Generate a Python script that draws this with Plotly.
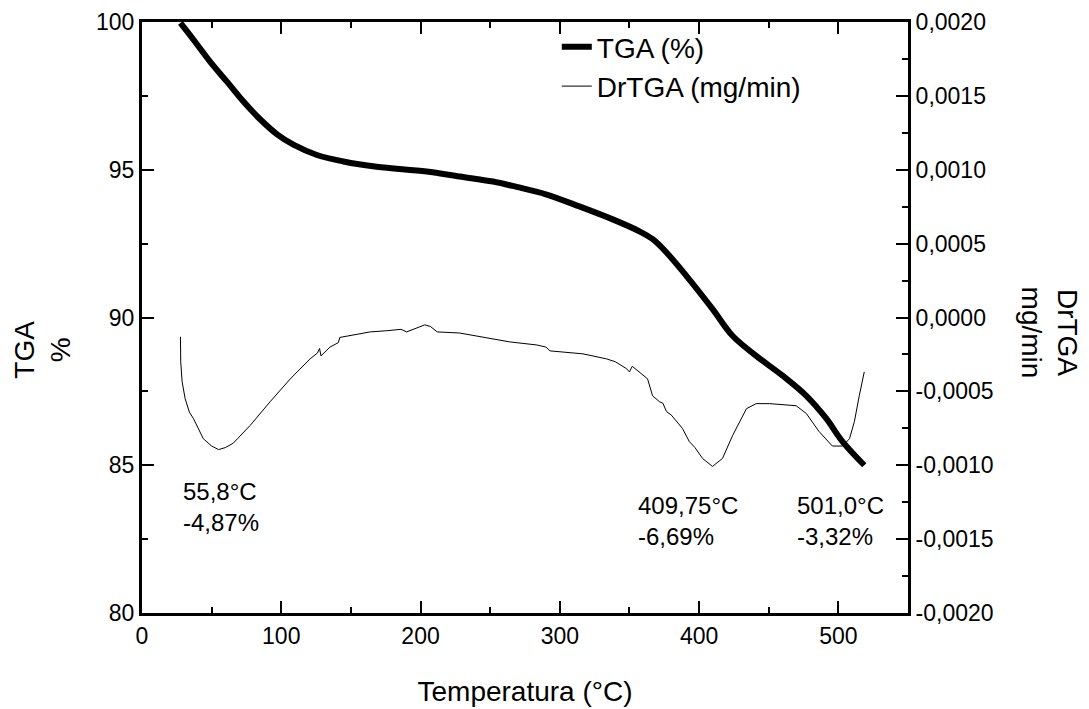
import plotly.graph_objects as go

# ---- data ----
temp_tga = [27.6, 37, 49, 61, 73, 85, 97, 108.7, 125.6, 144.6, 168.5, 204.3, 228, 252,
            269, 290, 314, 338, 357, 366.7, 376.6, 391, 409.6, 424, 441, 460, 477, 491,
            503, 518.6]
tga = [99.97, 99.4, 98.65, 97.98, 97.3, 96.7, 96.2, 95.85, 95.5, 95.28, 95.1, 94.94,
       94.77, 94.6, 94.42, 94.17, 93.76, 93.32, 92.92, 92.65, 92.2, 91.4, 90.29, 89.38,
       88.7, 88.03, 87.35, 86.6, 85.8, 85.0]

temp_dr = [27.6, 27.8, 28.8, 31, 34, 37, 44, 50, 55, 60, 65.6, 77.7, 92, 106.5, 120.7,
           126, 127.5, 128.5, 135, 141, 142, 150, 163.8, 175, 183, 186, 190, 195, 203,
           207, 212, 228, 245, 264, 283.5, 290, 293, 316.6, 333.5, 340, 348, 350, 352,
           357, 363, 366.6, 371.6, 374, 376.6, 380, 383.8, 388, 393, 397, 402.5, 409.6,
           416.8, 424, 434, 441, 450.5, 460, 469.7, 477, 486, 495.7, 503, 508, 511.5,
           515, 518.6]
dr_tga = [-0.00013, -0.00030, -0.000435, -0.00055, -0.00064, -0.000685, -0.00082,
          -0.00087, -0.000894, -0.00088, -0.00085, -0.00073, -0.00057, -0.000415,
          -0.00028, -0.00024, -0.00021, -0.00026, -0.00020, -0.00017, -0.000135,
          -0.00012, -0.0000975, -0.00009, -0.000084, -0.00008, -0.0000975, -0.00008,
          -0.00005, -0.00006, -0.0000975, -0.000105, -0.000132, -0.000165, -0.000186,
          -0.0002, -0.000226, -0.000246, -0.00028, -0.0003, -0.000347, -0.000368,
          -0.00033, -0.000368, -0.000415, -0.00053, -0.00057, -0.00058, -0.000637,
          -0.00066, -0.000705, -0.00075, -0.00084, -0.00088, -0.000954, -0.001008,
          -0.000954, -0.0008, -0.000617, -0.000583, -0.000583, -0.00059, -0.000597,
          -0.00065, -0.00077, -0.00087, -0.00087, -0.00082, -0.000705, -0.00053,
          -0.000368]

x_ticks = [0, 100, 200, 300, 400, 500]
y_ticks = [80, 85, 90, 95, 100]
y2_ticks = [-0.002, -0.0015, -0.001, -0.0005, 0.0, 0.0005, 0.001, 0.0015, 0.002]
y2_labels = ["-0,0020", "-0,0015", "-0,0010", "-0,0005", "0,0000",
             "0,0005", "0,0010", "0,0015", "0,0020"]

peak_labels = ["55,8°C<br>-4,87%", "409,75°C<br>-6,69%", "501,0°C<br>-3,32%"]
peak_x = [28, 355, 469]
peak_y = [84.65, 84.15, 84.15]

FONT = "Liberation Sans, Arial, sans-serif"

fig = go.Figure()
fig.add_trace(go.Scatter(x=temp_tga, y=tga, name="TGA (%)", mode="lines",
                         line=dict(color="black", width=6, shape="spline")))
fig.add_trace(go.Scatter(x=temp_dr, y=dr_tga, name="DrTGA (mg/min)", mode="lines",
                         yaxis="y2", line=dict(color="black", width=1)))

axis_common = dict(showline=True, linecolor="black", linewidth=3, ticks="inside",
                   ticklen=12, tickwidth=2, tickcolor="black", showgrid=False,
                   zeroline=False, tickfont=dict(size=23, color="black"))

# page body adds ~8px offset, margins compensate for it
fig.update_layout(
    width=1089, height=709,
    margin=dict(l=133.5, r=189, t=14, b=104, autoexpand=False),
    paper_bgcolor="white", plot_bgcolor="white",
    font=dict(family=FONT, color="black"),
    xaxis=dict(range=[0, 550], tickvals=x_ticks, mirror="ticks",
               minor=dict(ticks="inside", ticklen=6, tickwidth=2, dtick=50, tick0=0),
               title=dict(text="Temperatura (°C)", font=dict(size=28), standoff=34),
               **axis_common),
    yaxis=dict(range=[80, 100], tickvals=y_ticks,
               minor=dict(ticks="inside", ticklen=6, tickwidth=2, dtick=2.5, tick0=80),
               **axis_common),
    yaxis2=dict(range=[-0.002, 0.002], overlaying="y", side="right",
                tickvals=y2_ticks, ticktext=y2_labels,
                minor=dict(ticks="inside", ticklen=6, tickwidth=2, dtick=0.00025,
                           tick0=-0.002),
                **axis_common),
    legend=dict(x=0.5415, y=1.0, xanchor="left", yanchor="top",
                bgcolor="rgba(0,0,0,0)", font=dict(size=28), tracegroupgap=0),
    showlegend=True,
)

# axis titles
fig.add_annotation(text="TGA<br>%", xref="paper", yref="paper", x=-0.131, y=0.445,
                   xanchor="center", yanchor="middle",
                   showarrow=False, textangle=-90, font=dict(size=28))
fig.add_annotation(text="DrTGA<br>mg/min", xref="paper", yref="paper", x=1.185, y=0.475,
                   xanchor="center", yanchor="middle",
                   showarrow=False, textangle=90, font=dict(size=28))

for txt, px_, py_ in zip(peak_labels, peak_x, peak_y):
    fig.add_annotation(text=txt, x=px_, y=py_, xref="x", yref="y", showarrow=False,
                       xanchor="left", yanchor="top", align="left",
                       font=dict(size=24))

fig.write_html("out.html")
